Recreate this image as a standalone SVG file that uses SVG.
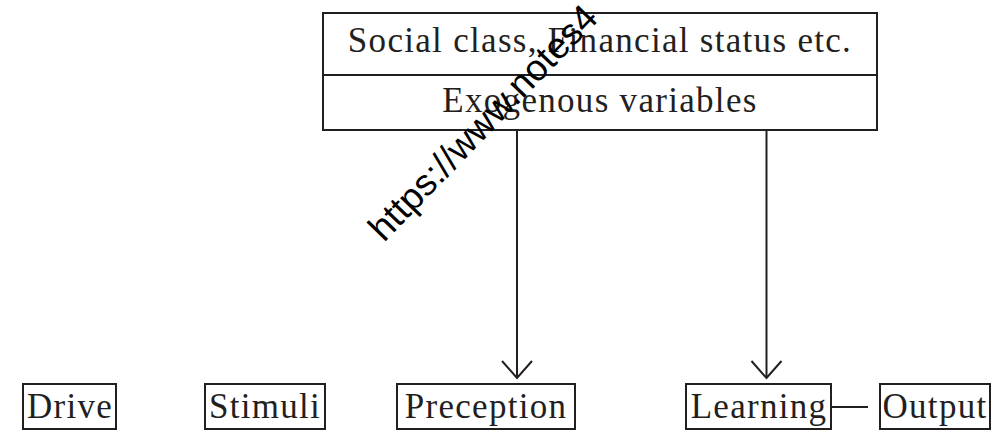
<svg xmlns="http://www.w3.org/2000/svg" width="1003" height="431" viewBox="0 0 1003 431">
<style>
.box{fill:#fff;stroke:#231f20;stroke-width:2}
.lbl{font-family:"Liberation Serif","Times New Roman",serif;font-size:35px;fill:#231f20;text-anchor:middle;letter-spacing:1.3px}
.conn{stroke:#231f20;stroke-width:2;fill:none}
.wm{font-family:"Liberation Sans",Arial,sans-serif;font-size:37px;fill:#000}
</style>
<rect width="1003" height="431" fill="#fff"/>
<g id="exogenous">
<rect class="box" x="323" y="13" width="554" height="117"/>
<line class="conn" x1="323" y1="75" x2="877" y2="75"/>
<text class="lbl" x="600" y="52">Social class, Financial status etc.</text>
<text class="lbl" x="600" y="112">Exogenous variables</text>
</g>
<g id="drive">
<rect class="box" x="23" y="384" width="93" height="45"/>
<text class="lbl" x="70" y="418">Drive</text>
</g>
<g id="stimuli">
<rect class="box" x="205" y="384" width="120" height="45"/>
<text class="lbl" x="265" y="418">Stimuli</text>
</g>
<g id="preception">
<rect class="box" x="397" y="384" width="178" height="45"/>
<text class="lbl" x="486" y="418">Preception</text>
</g>
<g id="learning">
<rect class="box" x="686" y="384" width="145" height="45"/>
<text class="lbl" x="759" y="418">Learning</text>
</g>
<g id="output">
<rect class="box" x="880" y="384" width="110" height="45"/>
<text class="lbl" x="935" y="418">Output</text>
</g>
<g id="connectors">
<line class="conn" x1="517" y1="130" x2="517" y2="378"/>
<polyline class="conn" points="502,361 517,378 532,361"/>
<line class="conn" x1="766.5" y1="130" x2="766.5" y2="378"/>
<polyline class="conn" points="751.5,361 766.5,378 781.5,361"/>
<line class="conn" x1="831" y1="407" x2="868" y2="407"/>
</g>
<text class="wm" x="0" y="0" transform="translate(384,243) rotate(-46)">https://www.notes4</text>
</svg>
